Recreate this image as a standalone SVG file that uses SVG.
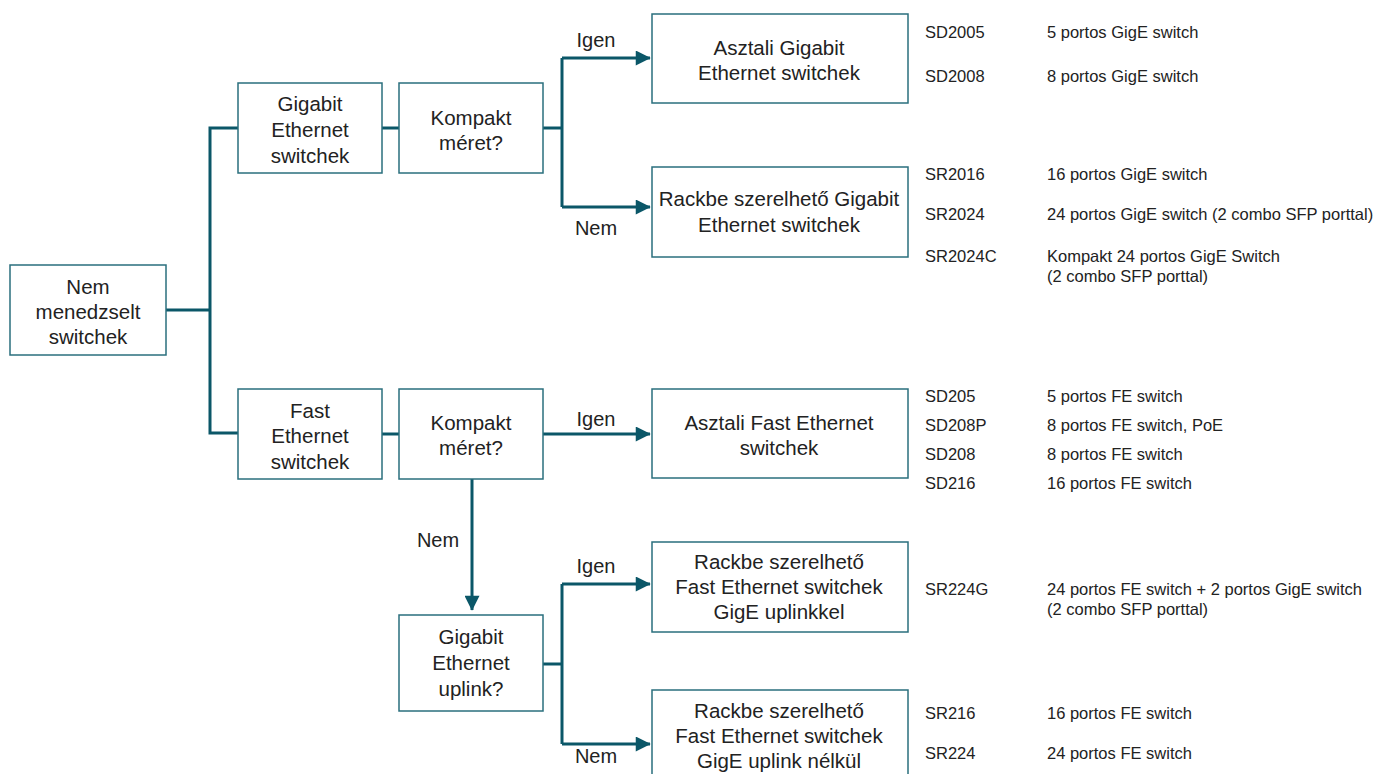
<svg xmlns="http://www.w3.org/2000/svg" width="1374" height="774" viewBox="0 0 1374 774">
<style>
.box{fill:#fff;stroke:#2a6f7d;stroke-width:1.5}
.t{font-family:"Liberation Sans",Arial,sans-serif;font-size:20.5px;fill:#222;text-anchor:middle}
.lbl{font-family:"Liberation Sans",Arial,sans-serif;font-size:20px;fill:#222;text-anchor:middle}
.c{fill:none;stroke:#0b5768;stroke-width:3}
.r{font-family:"Liberation Sans",Arial,sans-serif;font-size:16.5px;fill:#222}
</style>
<defs>
<marker id="ah" viewBox="0 0 10 10" refX="9.5" refY="5" markerWidth="6.7" markerHeight="5" markerUnits="strokeWidth" orient="auto">
<path d="M0,0 L10,5 L0,10 z" fill="#0b5768"/>
</marker>
</defs>
<g id="connectors">
<path class="c" d="M166,310 H210"/>
<path class="c" d="M238,128 H210 V433 H238"/>
<path class="c" d="M382,128 H399"/>
<path class="c" d="M382,434 H399"/>
<path class="c" d="M543,128 H562"/>
<path class="c" d="M562,58 V207"/>
<path class="c" d="M562,58 H650" marker-end="url(#ah)"/>
<path class="c" d="M562,207 H650" marker-end="url(#ah)"/>
<path class="c" d="M543,434 H650" marker-end="url(#ah)"/>
<path class="c" d="M472,479 V610" marker-end="url(#ah)"/>
<path class="c" d="M543,664 H562"/>
<path class="c" d="M562,584 V744"/>
<path class="c" d="M562,584 H650" marker-end="url(#ah)"/>
<path class="c" d="M562,744 H650" marker-end="url(#ah)"/>
<text class="lbl" x="596" y="47">Igen</text>
<text class="lbl" x="596" y="235">Nem</text>
<text class="lbl" x="596" y="426">Igen</text>
<text class="lbl" x="438" y="547">Nem</text>
<text class="lbl" x="596" y="573">Igen</text>
<text class="lbl" x="596" y="763">Nem</text>
</g>
<g id="n-root">
<rect class="box" x="10" y="265" width="156" height="90"/>
<text class="t" x="88" y="294">Nem</text>
<text class="t" x="88" y="319">menedzselt</text>
<text class="t" x="88" y="344">switchek</text>
</g>
<g id="n-gige">
<rect class="box" x="238" y="83" width="144" height="90"/>
<text class="t" x="310" y="111">Gigabit</text>
<text class="t" x="310" y="137">Ethernet</text>
<text class="t" x="310" y="163">switchek</text>
</g>
<g id="n-kompakt1">
<rect class="box" x="399" y="83" width="144" height="90"/>
<text class="t" x="471" y="125">Kompakt</text>
<text class="t" x="471" y="150">méret?</text>
</g>
<g id="n-asztali-gige">
<rect class="box" x="652" y="14" width="256" height="89"/>
<text class="t" x="779" y="55">Asztali Gigabit</text>
<text class="t" x="779" y="80">Ethernet switchek</text>
</g>
<g id="n-rack-gige">
<rect class="box" x="652" y="167" width="256" height="90"/>
<text class="t" x="779" y="206">Rackbe szerelhető Gigabit</text>
<text class="t" x="779" y="232">Ethernet switchek</text>
</g>
<g id="n-fe">
<rect class="box" x="238" y="389" width="144" height="90"/>
<text class="t" x="310" y="418">Fast</text>
<text class="t" x="310" y="443">Ethernet</text>
<text class="t" x="310" y="469">switchek</text>
</g>
<g id="n-kompakt2">
<rect class="box" x="399" y="389" width="144" height="90"/>
<text class="t" x="471" y="430">Kompakt</text>
<text class="t" x="471" y="455">méret?</text>
</g>
<g id="n-asztali-fe">
<rect class="box" x="652" y="389" width="256" height="89"/>
<text class="t" x="779" y="430">Asztali Fast Ethernet</text>
<text class="t" x="779" y="455">switchek</text>
</g>
<g id="n-uplink">
<rect class="box" x="399" y="615" width="144" height="96"/>
<text class="t" x="471" y="644">Gigabit</text>
<text class="t" x="471" y="670">Ethernet</text>
<text class="t" x="471" y="696">uplink?</text>
</g>
<g id="n-rack-fe-up">
<rect class="box" x="652" y="542" width="256" height="90"/>
<text class="t" x="779" y="569">Rackbe szerelhető</text>
<text class="t" x="779" y="594">Fast Ethernet switchek</text>
<text class="t" x="779" y="619">GigE uplinkkel</text>
</g>
<g id="n-rack-fe-noup">
<rect class="box" x="652" y="690" width="256" height="92"/>
<text class="t" x="779" y="718">Rackbe szerelhető</text>
<text class="t" x="779" y="743">Fast Ethernet switchek</text>
<text class="t" x="779" y="768">GigE uplink nélkül</text>
</g>
<g id="models">
<text class="r" x="925" y="38">SD2005</text><text class="r" x="1047" y="38">5 portos GigE switch</text>
<text class="r" x="925" y="82">SD2008</text><text class="r" x="1047" y="82">8 portos GigE switch</text>
<text class="r" x="925" y="180">SR2016</text><text class="r" x="1047" y="180">16 portos GigE switch</text>
<text class="r" x="925" y="220">SR2024</text><text class="r" x="1047" y="220">24 portos GigE switch (2 combo SFP porttal)</text>
<text class="r" x="925" y="262">SR2024C</text><text class="r" x="1047" y="262">Kompakt 24 portos GigE Switch</text>
<text class="r" x="1047" y="282">(2 combo SFP porttal)</text>
<text class="r" x="925" y="402">SD205</text><text class="r" x="1047" y="402">5 portos FE switch</text>
<text class="r" x="925" y="431">SD208P</text><text class="r" x="1047" y="431">8 portos FE switch, PoE</text>
<text class="r" x="925" y="460">SD208</text><text class="r" x="1047" y="460">8 portos FE switch</text>
<text class="r" x="925" y="489">SD216</text><text class="r" x="1047" y="489">16 portos FE switch</text>
<text class="r" x="925" y="595">SR224G</text><text class="r" x="1047" y="595">24 portos FE switch + 2 portos GigE switch</text>
<text class="r" x="1047" y="615">(2 combo SFP porttal)</text>
<text class="r" x="925" y="719">SR216</text><text class="r" x="1047" y="719">16 portos FE switch</text>
<text class="r" x="925" y="759">SR224</text><text class="r" x="1047" y="759">24 portos FE switch</text>
</g>
</svg>
